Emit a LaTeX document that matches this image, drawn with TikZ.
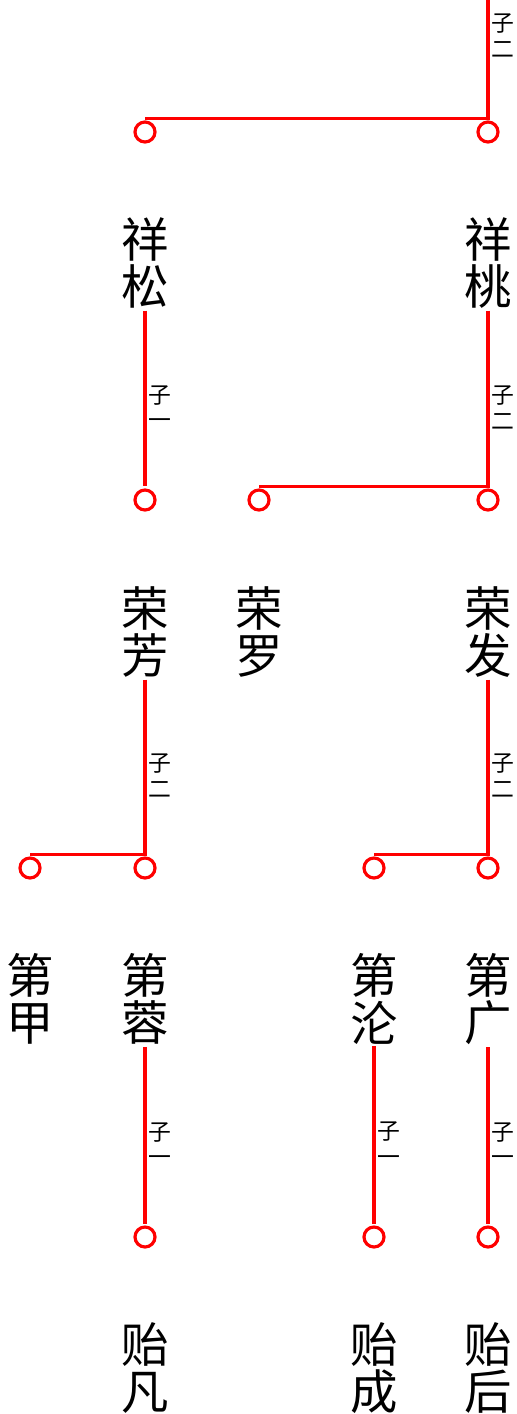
\documentclass[tikz,border=0pt]{standalone}
\usepackage{fontspec}
\setmainfont{Noto Sans CJK SC}
\usetikzlibrary{calc,positioning}
\definecolor{linered}{HTML}{FF0000}
\tikzset{
  kin/.style={linered,line width=1.8pt},
  ring/.style={draw=linered,line width=1.8pt,circle,minimum size=0.4cm,inner sep=0pt,outer sep=2pt},
  person/.style={align=center,inner sep=1pt,font=\fontsize{27}{27}\selectfont},
  rank/.style={right,inner sep=1pt,align=center,font=\fontsize{13}{14.5}\selectfont}
}

\begin{document}
\begin{tikzpicture}[x=0.02cm,y=-0.02cm]
\useasboundingbox (0,0) rectangle (517,1414);
\coordinate (top) at (488,0);
% generation 1
\node[ring] (xiangsong-o) at (145,132) {};
\node[ring] (xiangtao-o) at (488,132) {};
\node[person] (xiangsong) at (145,263) {祥\\松};
\node[person] (xiangtao) at (488,263) {祥\\桃};
% generation 2
\node[ring] (rongfang-o) at (145,500) {};
\node[ring] (rongluo-o) at (259,500) {};
\node[ring] (rongfa-o) at (488,500) {};
\node[person] (rongfang) at (145,632) {荣\\芳};
\node[person] (rongluo) at (259,632) {荣\\罗};
\node[person] (rongfa) at (488,632) {荣\\发};
% generation 3
\node[ring] (dijia-o) at (30,868) {};
\node[ring] (dirong-o) at (145,868) {};
\node[ring] (dilun-o) at (374,868) {};
\node[ring] (diguang-o) at (488,868) {};
\node[person] (dijia) at (30,999) {第\\甲};
\node[person] (dirong) at (145,999) {第\\蓉};
\node[person] (dilun) at (374,999) {第\\沦};
\node[person] (diguang) at (488,999) {第\\广};
% generation 4
\node[ring] (yifan-o) at (145,1237) {};
\node[ring] (yicheng-o) at (374,1237) {};
\node[ring] (yihou-o) at (488,1237) {};
\node[person] (yifan) at (145,1368) {贻\\凡};
\node[person] (yicheng) at (374,1368) {贻\\成};
\node[person] (yihou) at (488,1368) {贻\\后};

% lines of descent
\draw[kin] (top) -- node[rank,pos=0.3,black]{子\\二} (xiangtao-o.north) -| (xiangsong-o.north);
\draw[kin] (xiangsong.south) -- node[rank,pos=0.55,black]{子\\一} (rongfang-o.north);
\draw[kin] (xiangtao.south) -- node[rank,pos=0.55,black]{子\\二} (rongfa-o.north) -| (rongluo-o.north);
\draw[kin] (rongfang.south) -- node[rank,pos=0.55,black]{子\\二} (dirong-o.north) -| (dijia-o.north);
\draw[kin] (rongfa.south) -- node[rank,pos=0.55,black]{子\\二} (diguang-o.north) -| (dilun-o.north);
\draw[kin] (dirong.south) -- node[rank,pos=0.55,black]{子\\一} (yifan-o.north);
\draw[kin] (dilun.south) -- node[rank,pos=0.55,black]{子\\一} (yicheng-o.north);
\draw[kin] (diguang.south) -- node[rank,pos=0.55,black]{子\\一} (yihou-o.north);
\end{tikzpicture}
\end{document}
